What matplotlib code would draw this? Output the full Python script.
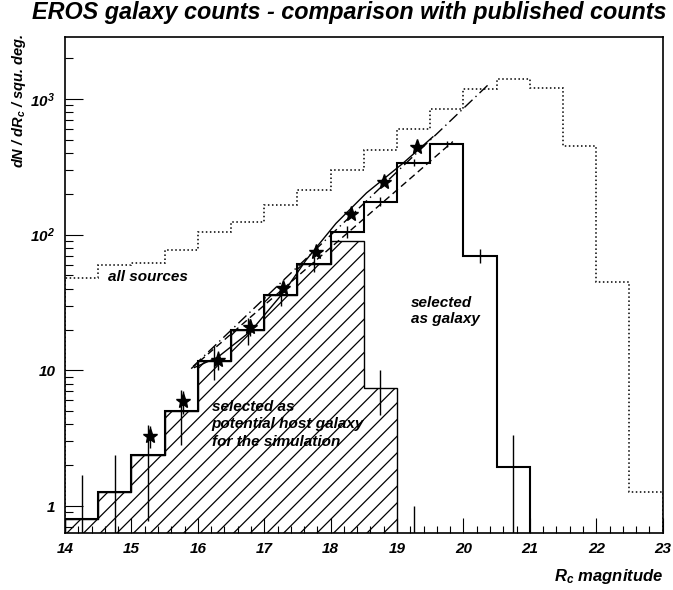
import matplotlib
matplotlib.use('Agg')
import matplotlib.pyplot as plt
from matplotlib.ticker import FixedLocator, FixedFormatter, MultipleLocator, LogLocator, NullFormatter

plt.rcParams['font.family'] = 'Liberation Sans'
plt.rcParams['font.weight'] = 'bold'
plt.rcParams['font.style'] = 'italic'
plt.rcParams['mathtext.fontset'] = 'custom'
plt.rcParams['mathtext.rm'] = 'Liberation Sans:bold:italic'
plt.rcParams['mathtext.it'] = 'Liberation Sans:bold:italic'
plt.rcParams['mathtext.bf'] = 'Liberation Sans:bold:italic'
plt.rcParams['hatch.linewidth'] = 0.9

# bin edges (0.5 mag bins)
edges_all = [14.0, 14.5, 15.0, 15.5, 16.0, 16.5, 17.0, 17.5, 18.0, 18.5,
             19.0, 19.5, 20.0, 20.5, 21.0, 21.5, 22.0, 22.5, 23.0]
all_sources = [48, 60, 62, 77, 104, 123, 165, 215, 300, 420,
               600, 850, 1180, 1400, 1200, 450, 45, 1.27]

edges_gal = edges_all[:15]
galaxy = [0.8, 1.27, 2.37, 5.0, 11.8, 19.8, 36, 61, 105, 175, 340, 466, 70, 1.94]
galaxy_err = [0.9, 1.1, 1.6, 2.2, 3.3, 4.5, 6.0, 7.8, 10, 13, 18, 22, 8.4, 1.4]

edges_host = edges_all[:11]
host = [0.8, 1.27, 2.37, 5.0, 11.8, 19.8, 36, 61, 90, 7.4]
host_err_mag = [18.75, 19.25]
host_err_lo = [4.7, 0.3]
host_err_hi = [10.1, 1.0]

# published counts
star_mag = [15.28, 15.78, 16.3, 16.78, 17.28, 17.78, 18.3, 18.8, 19.3]
star_counts = [3.3, 5.9, 12, 20.8, 40.5, 74, 141, 246, 441]
star_err = [0.6, 1.1, 2.0, 3.0, 0, 0, 0, 0, 0]

# model curves
model_mag = [15.95, 16.3, 16.8, 17.3, 17.63, 18.08, 18.54, 19.09, 19.54]
model_counts = [10.5, 12.5, 19.5, 38, 65, 121, 203, 336, 526]
dashed_mag = [15.9, 19.84]
dashed_counts = [10.3, 485]
dashdot_mag = [15.93, 20.4]
dashdot_counts = [10.7, 1310]

fig = plt.figure(figsize=(6.73, 5.9), dpi=100)
ax = fig.add_axes([0.0966, 0.0961, 0.8881, 0.8412])
ax.set_yscale('log')
ax.set_xlim(14, 23)
ax.set_ylim(0.63, 2860)

# histograms
ax.stairs(all_sources, edges_all, baseline=0.3, color='k', linestyle=':', linewidth=1.1)
ax.stairs(host, edges_host, baseline=0.3, fill=True, facecolor='none',
          edgecolor='k', hatch='//', linewidth=1.0)
ax.stairs(galaxy, edges_gal, baseline=0.3, color='k', linewidth=1.5)

centers = [(a + b) / 2 for a, b in zip(edges_gal[:-1], edges_gal[1:])]
lo = [max(v - e, 0.3) for v, e in zip(galaxy, galaxy_err)]
hi = [v + e for v, e in zip(galaxy, galaxy_err)]
ax.vlines(centers, lo, hi, color='k', linewidth=1.0)
ax.vlines(host_err_mag, host_err_lo, host_err_hi, color='k', linewidth=1.0)

# models
ax.plot(model_mag, model_counts, color='k', linewidth=1.0)
ax.plot(dashed_mag, dashed_counts, color='k', linewidth=1.0, linestyle=(0, (5, 3)))
ax.plot(dashdot_mag, dashdot_counts, color='k', linewidth=1.0, linestyle=(0, (8, 3, 1, 3)))

# published counts
s_lo = [c - e for c, e in zip(star_counts, star_err)]
s_hi = [c + e for c, e in zip(star_counts, star_err)]
ax.vlines(star_mag, s_lo, s_hi, color='k', linewidth=1.0)
ax.plot(star_mag, star_counts, 'k*', markersize=11, linestyle='none')

# axes styling
for sp in ax.spines.values():
    sp.set_linewidth(1.2)
ax.xaxis.set_major_locator(MultipleLocator(1))
ax.xaxis.set_minor_locator(MultipleLocator(0.2))
ax.yaxis.set_major_locator(FixedLocator([1, 10, 100, 1000]))
ax.yaxis.set_major_formatter(FixedFormatter(['1', '10', r'10$^{2}$', r'10$^{3}$']))
ax.yaxis.set_minor_locator(LogLocator(base=10, subs=[2, 3, 4, 5, 6, 7, 8, 9]))
ax.yaxis.set_minor_formatter(NullFormatter())
ax.tick_params(axis='x', which='major', direction='in', length=10.8, width=0.8,
               labelsize=11, pad=6, top=False)
ax.tick_params(axis='x', which='minor', direction='in', length=5, width=0.8, top=False)
ax.tick_params(axis='y', which='major', direction='in', length=13, width=0.8,
               labelsize=11, pad=7, right=False)
ax.tick_params(axis='y', which='minor', direction='in', length=5.8, width=0.8, right=False)

# labels
ax.text(14.65, 48.6, 'all sources', fontsize=11, ha='left', va='center')
ax.text(19.21, 27.3, 'selected\nas galaxy', fontsize=11, ha='left', va='center',
        linespacing=1.2)
ax.text(16.21, 4.0, 'selected as\npotential host galaxy\nfor the simulation',
        fontsize=11, ha='left', va='center', linespacing=1.35)

fig.text(0.519, 1 - 13 / 590, 'EROS galaxy counts - comparison with published counts',
         fontsize=16.8, ha='center', va='center')
fig.text(19 / 673, 1 - 33 / 590, r'dN / dR$_c$ / squ. deg.', fontsize=10.5,
         rotation=90, ha='center', va='top')
fig.text(663 / 673, 1 - 577 / 590, r'R$_c$ magnitude', fontsize=12,
         ha='right', va='center')

fig.savefig('out.png', dpi=100)
